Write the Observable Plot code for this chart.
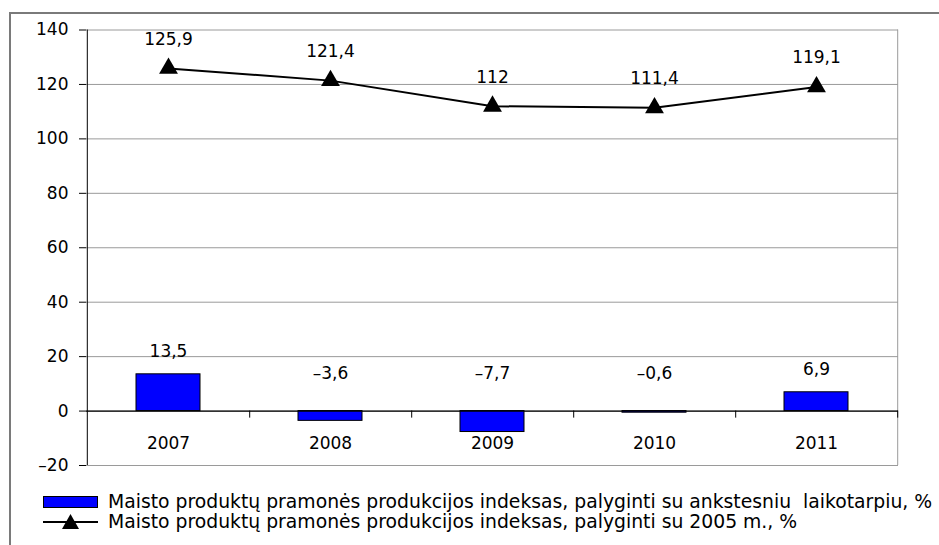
<!DOCTYPE html>
<html>
<head>
<meta charset="utf-8">
<script src="https://cdn.jsdelivr.net/npm/d3@7"></script>
<script src="https://cdn.jsdelivr.net/npm/@observablehq/plot@0.6"></script>
<style>
  html, body { margin: 0; padding: 0; background: #fff; }
  #wrap { position: relative; width: 939px; height: 545px; overflow: hidden; font-family: "DejaVu Sans", sans-serif; }
  #border { position: absolute; left: 9px; top: 12px; width: 1000px; height: 600px; border-left: 2px solid #7a7a7a; border-top: 2px solid #7a7a7a; }
  #chart { position: absolute; left: 0; top: 0; }
  .leg { position: absolute; left: 43px; font-size: 18.8px; color: #000; white-space: pre; line-height: 20px; }
  .leg .txt { position: absolute; left: 65px; top: 0; }
  .leg .sw { position: absolute; left: 0; }
</style>
</head>
<body>
<div id="wrap">
  <div id="border"></div>
  <div id="chart"></div>
  <div class="leg" id="leg1" style="top:492px;"></div>
  <div class="leg" id="leg2" style="top:512px;"></div>
</div>
<script>
// ---- data ----
const years = ["2007", "2008", "2009", "2010", "2011"];
const changePrev = [13.5, -3.6, -7.7, -0.6, 6.9];
const index2005 = [125.9, 121.4, 112, 111.4, 119.1];
const yTicks = [-20, 0, 20, 40, 60, 80, 100, 120, 140];
const seriesNames = [
  "Maisto produktų pramonės produkcijos indeksas, palyginti su ankstesniu  laikotarpiu, %",
  "Maisto produktų pramonės produkcijos indeksas, palyginti su 2005 m., %"
];

const rows = years.map((y, i) => ({year: y, change: changePrev[i], index: index2005[i]}));
const fmt = v => (v < 0 ? "–" : "") + String(Math.abs(v)).replace(".", ",");

const W = 939, H = 475, ML = 86, MR = 41, MT = 29.5, MB = 10;
const bw = (W - ML - MR) / years.length;

const chart = Plot.plot({
  width: W, height: H,
  marginLeft: ML, marginRight: MR, marginTop: MT, marginBottom: MB,
  style: {fontFamily: "DejaVu Sans, sans-serif", fontSize: "17px", color: "black", background: "transparent", overflow: "visible"},
  x: {domain: years, padding: 0, axis: null},
  y: {domain: [-20, 140], ticks: yTicks, tickFormat: fmt, tickSize: 7, tickPadding: 11, label: null},
  marks: [
    Plot.ruleY(yTicks, {stroke: "#9a9a9a", strokeWidth: 1}),
    Plot.ruleX([years[years.length - 1]], {x: d => d, dx: bw / 2, stroke: "#9a9a9a"}),
    Plot.ruleX([years[0]], {x: d => d, dx: -bw / 2, stroke: "black"}),
    Plot.barY(rows, {x: "year", y: "change", fill: "#0000ff", stroke: "black", strokeWidth: 1, insetLeft: 49, insetRight: 49}),
    Plot.ruleY([0], {stroke: "black", strokeWidth: 1.2}),
    Plot.ruleX(years, {x: d => d, y1: 0, y2: -2.6, dx: bw / 2, stroke: "black"}),
    Plot.text(rows, {x: "year", y: 0, text: "year", dy: 32, fill: "black", fontSize: 17}),
    Plot.line(rows, {x: "year", y: "index", stroke: "black", strokeWidth: 2}),
    Plot.dot(rows, {x: "year", y: "index", symbol: "triangle", r: 7, fill: "black", stroke: "none"}),
    Plot.text(rows, {x: "year", y: "index", text: d => fmt(d.index), dy: -29, fill: "black", fontSize: 17}),
    Plot.text(rows.filter(d => d.change >= 0), {x: "year", y: "change", text: d => fmt(d.change), dy: -23, fill: "black", fontSize: 17}),
    Plot.text(rows.filter(d => d.change < 0), {x: "year", y: 0, text: d => fmt(d.change), dy: -38, fill: "black", fontSize: 17})
  ]
});
document.getElementById("chart").appendChild(chart);

// ---- legend ----
const leg1 = document.getElementById("leg1");
leg1.innerHTML = '<div class="sw" style="top:4px;width:55px;height:12px;background:#0000ff;border:1px solid #000;box-sizing:border-box;"></div><span class="txt"></span>';
leg1.querySelector(".txt").textContent = seriesNames[0];
const leg2 = document.getElementById("leg2");
leg2.innerHTML = '<svg class="sw" style="top:0px" width="56" height="20"><line x1="0" x2="55" y1="10" y2="10" stroke="black" stroke-width="2"></line><path d="M27.5,2 L36,17 L19,17 Z" fill="black"></path></svg><span class="txt"></span>';
leg2.querySelector(".txt").textContent = seriesNames[1];
</script>
</body>
</html>
